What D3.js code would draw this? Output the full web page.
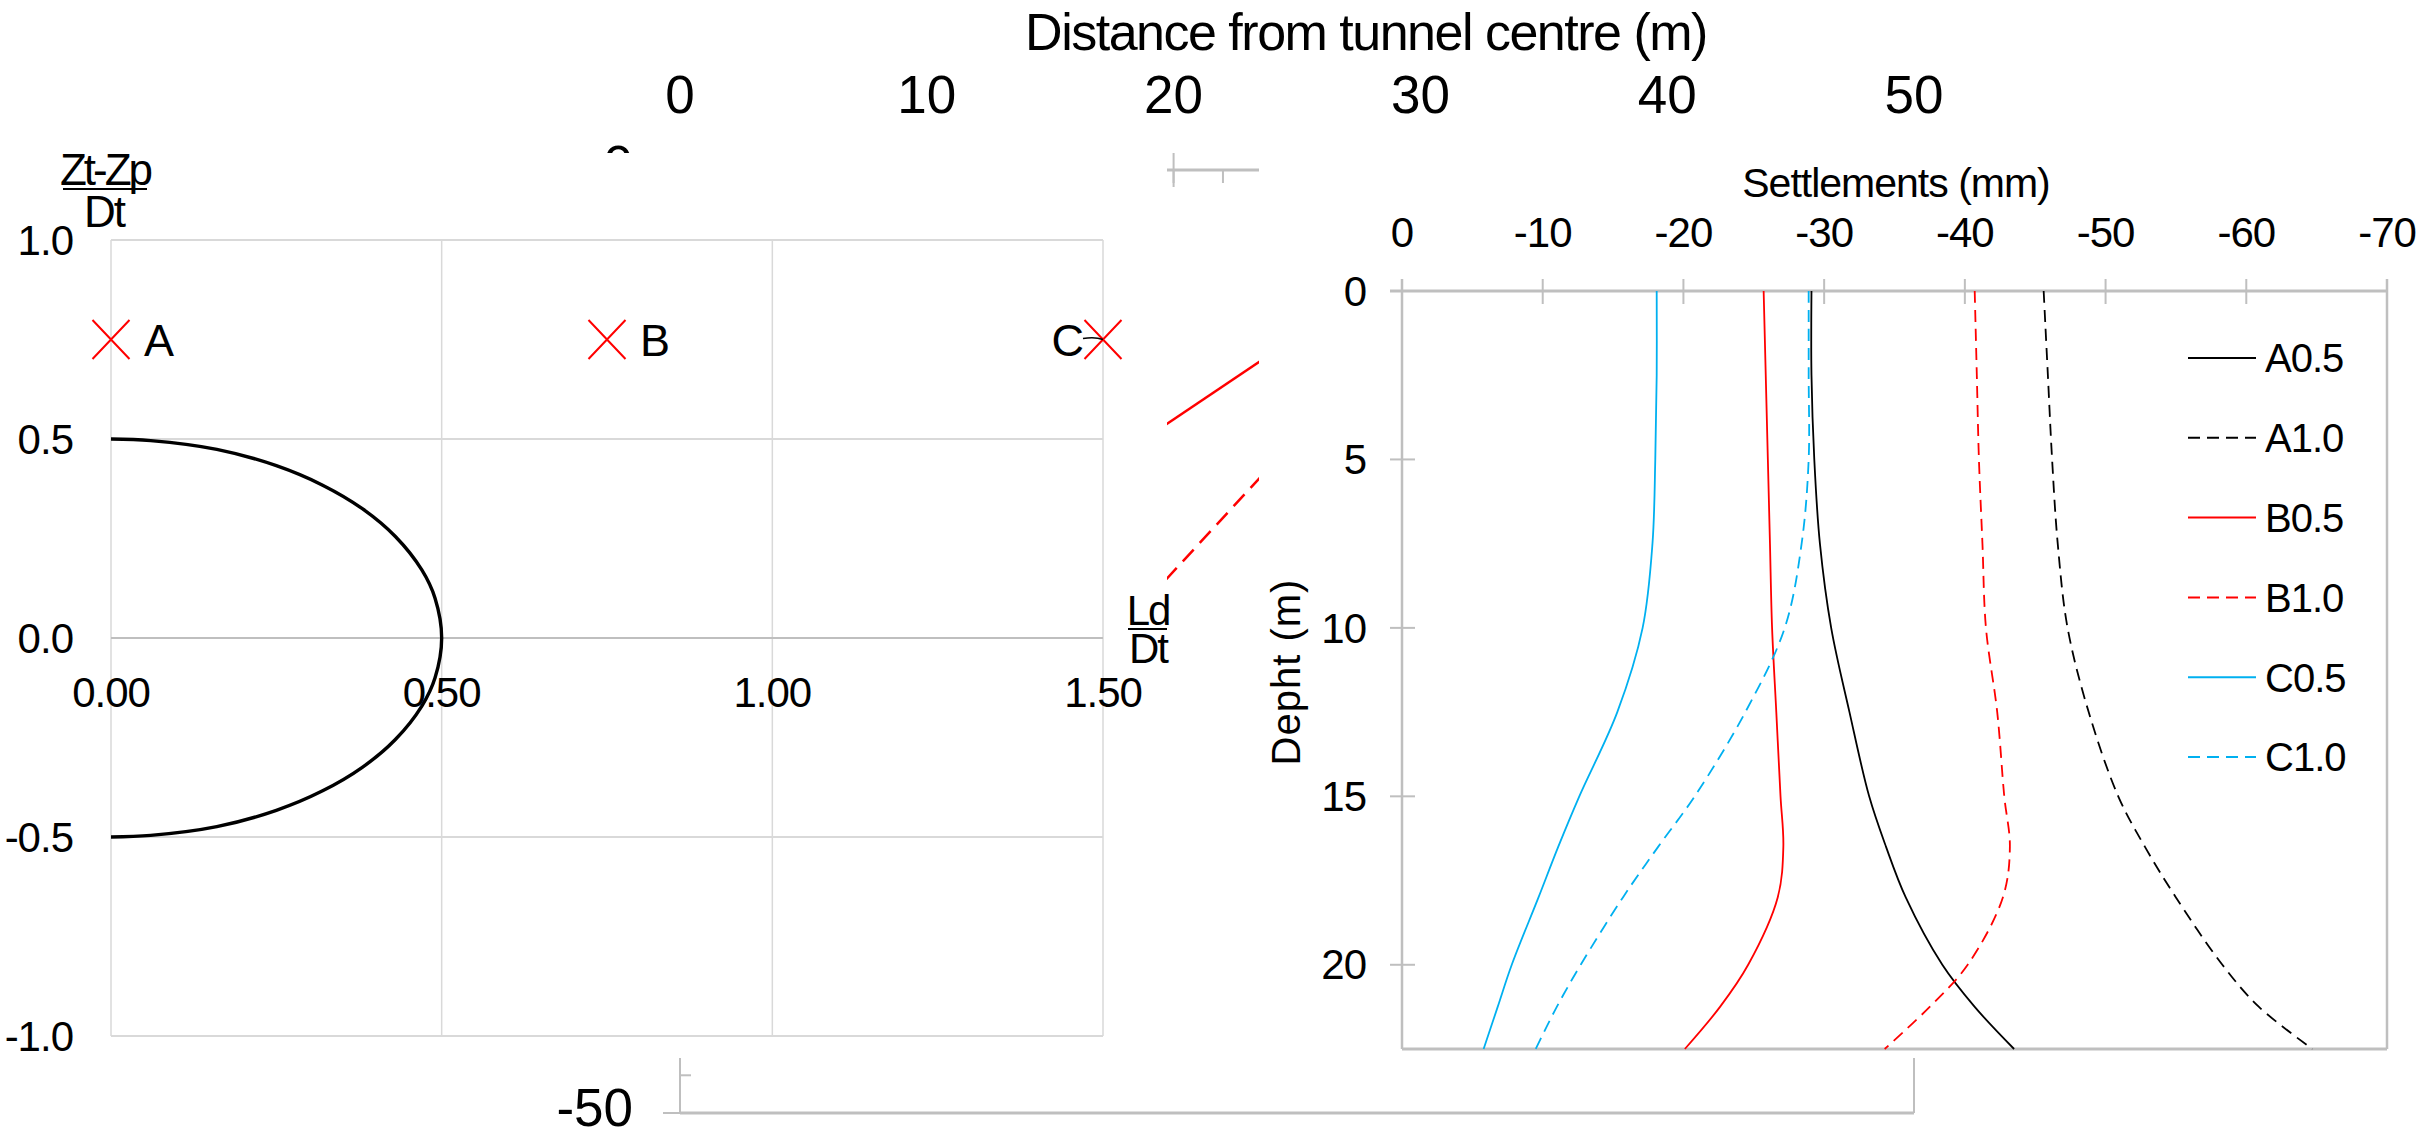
<!DOCTYPE html>
<html>
<head>
<meta charset="utf-8">
<script src="https://cdn.jsdelivr.net/npm/d3@7"></script>
<style>
body{margin:0;background:#fff}
svg{display:block}
text{font-family:"Liberation Sans",Arial,sans-serif;fill:#000}
</style>
</head>
<body>
<div id="chart"></div>
<script>
// background chart, mostly covered by the two charts on top of it
var distTicks = [0, 10, 20, 30, 40, 50];
var distYTicks = [0, -10, -20, -30, -40, -50];
var gapDist = [19, 24];
var gapB05 = [-14.1, -9.7];
var gapB10 = [-22.7, -15.6];

// left chart : tunnel section and points A B C
var ldTicks = [0, 0.5, 1.0, 1.5];
var ldLabels = ["0.00", "0.50", "1.00", "1.50"];
var ztTicks = [1.0, 0.5, 0.0, -0.5, -1.0];
var ztLabels = ["1.0", "0.5", "0.0", "-0.5", "-1.0"];
var tunnelLd = [0, 0.06, 0.16, 0.25, 0.32, 0.38, 0.43, 0.47, 0.49, 0.5, 0.49, 0.47, 0.43, 0.38, 0.32, 0.25, 0.16, 0.06, 0];
var tunnelZt = [0.5, 0.496, 0.474, 0.433, 0.384, 0.325, 0.255, 0.171, 0.1, 0, -0.1, -0.171, -0.255, -0.325, -0.384, -0.433, -0.474, -0.496, -0.5];
var pointNames = ["A", "B", "C"];
var pointLd = [0, 0.75, 1.5];
var pointZt = [0.75, 0.75, 0.75];

// right chart : settlements with depth
var settleTicks = [0, -10, -20, -30, -40, -50, -60, -70];
var depthTicks = [0, 5, 10, 15, 20];
var depth = [0, 2.5, 5, 7.5, 10, 12.5, 15, 16.5, 18, 20, 21.25, 22.5];
var A05 = [-29.1, -29.1, -29.3, -29.7, -30.5, -31.8, -33.2, -34.4, -35.8, -38.4, -40.7, -43.5];
var A10 = [-45.6, -45.9, -46.2, -46.6, -47.3, -48.8, -50.9, -52.8, -55.0, -58.3, -60.9, -64.7];
var B05 = [-25.7, -25.85, -26.0, -26.15, -26.3, -26.6, -26.9, -27.1, -26.7, -24.6, -22.6, -20.1];
var B10 = [-40.7, -40.85, -41.0, -41.25, -41.5, -42.3, -42.8, -43.2, -42.7, -40.2, -37.5, -34.3];
var C05 = [-18.1, -18.1, -18.0, -17.8, -17.1, -15.3, -12.6, -11.1, -9.7, -7.8, -6.8, -5.8];
var C10 = [-28.9, -28.9, -28.9, -28.4, -27.2, -24.4, -20.8, -18.2, -15.7, -12.7, -11.0, -9.5];
var seriesNames = ["A0.5", "A1.0", "B0.5", "B1.0", "C0.5", "C1.0"];
var seriesValues = [A05, A10, B05, B10, C05, C10];
var seriesColors = ["#000000", "#000000", "#ff0000", "#ff0000", "#00b0f0", "#00b0f0"];
var seriesDashed = [false, true, false, true, false, true];

var W = 2433, H = 1138;
var axisGray = "#bfbfbf", gridGray = "#d9d9d9";

var svg = d3.select("#chart").append("svg")
    .attr("width", W)
    .attr("height", H);
svg.append("rect").attr("width", W).attr("height", H).attr("fill", "#fff");

// ---------- background chart
var xD = d3.scaleLinear().domain([0, 50]).range([680, 1914]);
var yD = d3.scaleLinear().domain([0, -50]).range([170, 1113]);
var hid = svg.append("g");

hid.append("text")
    .attr("x", 1366).attr("y", 50)
    .attr("text-anchor", "middle")
    .style("font-size", "52px").style("letter-spacing", "-1.5px")
    .text("Distance from tunnel centre (m)");
hid.selectAll(".dtick").data(distTicks).enter().append("text")
    .attr("x", function(d){ return xD(d); })
    .attr("y", 113)
    .attr("text-anchor", "middle")
    .style("font-size", "53px")
    .text(function(d){ return d; });

hid.append("line")
    .attr("x1", xD(0)).attr("x2", xD(50))
    .attr("y1", yD(0)).attr("y2", yD(0))
    .attr("stroke", axisGray).attr("stroke-width", 3);
hid.selectAll(".dmaj").data(distTicks).enter().append("line")
    .attr("x1", function(d){ return xD(d); }).attr("x2", function(d){ return xD(d); })
    .attr("y1", yD(0) - 17).attr("y2", yD(0) + 17)
    .attr("stroke", axisGray).attr("stroke-width", 2);
hid.selectAll(".dmin").data(xD.ticks(25)).enter().append("line")
    .attr("x1", function(d){ return xD(d); }).attr("x2", function(d){ return xD(d); })
    .attr("y1", yD(0)).attr("y2", yD(0) + 13)
    .attr("stroke", axisGray).attr("stroke-width", 2);

hid.append("line")
    .attr("x1", xD(0)).attr("x2", xD(0))
    .attr("y1", yD(0)).attr("y2", yD(-50))
    .attr("stroke", axisGray).attr("stroke-width", 2);
hid.append("line")
    .attr("x1", xD(50)).attr("x2", xD(50))
    .attr("y1", yD(0)).attr("y2", yD(-50))
    .attr("stroke", axisGray).attr("stroke-width", 2);
hid.append("line")
    .attr("x1", xD(0)).attr("x2", xD(50))
    .attr("y1", yD(-50)).attr("y2", yD(-50))
    .attr("stroke", axisGray).attr("stroke-width", 3);
hid.selectAll(".ymaj").data(distYTicks).enter().append("line")
    .attr("x1", xD(0) - 17).attr("x2", xD(0) + 17)
    .attr("y1", function(d){ return yD(d); }).attr("y2", function(d){ return yD(d); })
    .attr("stroke", axisGray).attr("stroke-width", 2);
hid.selectAll(".ymin").data(yD.ticks(25)).enter().append("line")
    .attr("x1", xD(0)).attr("x2", xD(0) + 11)
    .attr("y1", function(d){ return yD(d); }).attr("y2", function(d){ return yD(d); })
    .attr("stroke", axisGray).attr("stroke-width", 2);
hid.selectAll(".ylab").data(distYTicks).enter().append("text")
    .attr("x", 633)
    .attr("y", function(d){ return yD(d); })
    .attr("dy", "0.25em")
    .attr("text-anchor", "end")
    .style("font-size", "53px")
    .text(function(d){ return d; });

var gapLine = d3.line()
    .x(function(d, i){ return xD(gapDist[i]); })
    .y(function(d){ return yD(d); });
hid.append("path").datum(gapB05)
    .attr("d", gapLine)
    .attr("fill", "none").attr("stroke", "#ff0000").attr("stroke-width", 2.5);
hid.append("path").datum(gapB10)
    .attr("d", gapLine)
    .attr("fill", "none").attr("stroke", "#ff0000").attr("stroke-width", 2.5)
    .attr("stroke-dasharray", "16,9");

// chart areas laid over it
svg.append("rect").attr("x", 0).attr("y", 153).attr("width", 1167).attr("height", 905).attr("fill", "#fff");
svg.append("rect").attr("x", 1259).attr("y", 150).attr("width", W - 1259).attr("height", 908).attr("fill", "#fff");

// ---------- left chart
var xL = d3.scaleLinear().domain([0, 1.5]).range([111, 1103]);
var yL = d3.scaleLinear().domain([-1, 1]).range([1036, 240]);
var left = svg.append("g");

left.selectAll(".vgrid").data(ldTicks).enter().append("line")
    .attr("x1", function(d){ return xL(d); }).attr("x2", function(d){ return xL(d); })
    .attr("y1", yL(1)).attr("y2", yL(-1))
    .attr("stroke", gridGray).attr("stroke-width", 1.5);
left.selectAll(".hgrid").data(ztTicks).enter().append("line")
    .attr("x1", xL(0)).attr("x2", xL(1.5))
    .attr("y1", function(d){ return yL(d); }).attr("y2", function(d){ return yL(d); })
    .attr("stroke", function(d){ return d === 0 ? axisGray : gridGray; })
    .attr("stroke-width", 2);

left.selectAll(".ylab").data(ztTicks).enter().append("text")
    .attr("x", 73)
    .attr("y", function(d){ return yL(d); })
    .attr("dy", "0.35em")
    .attr("text-anchor", "end")
    .style("font-size", "42px").style("letter-spacing", "-1px")
    .text(function(d, i){ return ztLabels[i]; });
left.selectAll(".xlab").data(ldTicks).enter().append("text")
    .attr("x", function(d){ return xL(d); })
    .attr("y", 707)
    .attr("text-anchor", "middle")
    .style("font-size", "42px").style("letter-spacing", "-1px")
    .text(function(d, i){ return ldLabels[i]; });

var tunnelLine = d3.line()
    .x(function(d, i){ return xL(tunnelLd[i]); })
    .y(function(d){ return yL(d); })
    .curve(d3.curveCatmullRom);
left.append("path").datum(tunnelZt)
    .attr("d", tunnelLine)
    .attr("fill", "none").attr("stroke", "#000").attr("stroke-width", 3.4);

var pts = left.selectAll(".pt").data(pointNames).enter().append("g");
pts.append("path")
    .attr("d", function(d, i){
        var cx = xL(pointLd[i]), cy = yL(pointZt[i]);
        return "M" + (cx - 18.5) + "," + (cy - 19.5) + "L" + (cx + 18.5) + "," + (cy + 19.5) +
               "M" + (cx - 18.5) + "," + (cy + 19.5) + "L" + (cx + 18.5) + "," + (cy - 19.5);
    })
    .attr("stroke", "#ff0000").attr("stroke-width", 2).attr("fill", "none");
pts.append("text")
    .attr("x", function(d, i){ return i === 2 ? xL(pointLd[i]) - 19 : xL(pointLd[i]) + 33; })
    .attr("y", function(d, i){ return yL(pointZt[i]); })
    .attr("dy", "0.36em")
    .attr("text-anchor", function(d, i){ return i === 2 ? "end" : "start"; })
    .style("font-size", "45px")
    .text(function(d){ return d; });
// leader of label C
left.append("path")
    .attr("d", "M" + (xL(1.5) - 20) + "," + (yL(0.75) - 1) + "Q" + (xL(1.5) - 8) + "," + (yL(0.75) - 3) + " " + xL(1.5) + "," + yL(0.75))
    .attr("fill", "none").attr("stroke", "#000").attr("stroke-width", 1.5);

// axis titles as fractions
left.append("text").attr("x", 105).attr("y", 185).attr("text-anchor", "middle")
    .style("font-size", "44px").style("letter-spacing", "-3px").text("Zt-Zp");
left.append("line").attr("x1", 63).attr("x2", 147).attr("y1", 189).attr("y2", 189)
    .attr("stroke", "#000").attr("stroke-width", 2);
left.append("text").attr("x", 104).attr("y", 227).attr("text-anchor", "middle")
    .style("font-size", "44px").style("letter-spacing", "-2px").text("Dt");

left.append("text").attr("x", 1148).attr("y", 625).attr("text-anchor", "middle")
    .style("font-size", "42px").style("letter-spacing", "-2px").text("Ld");
left.append("line").attr("x1", 1128).attr("x2", 1167).attr("y1", 629).attr("y2", 629)
    .attr("stroke", "#000").attr("stroke-width", 2);
left.append("text").attr("x", 1148).attr("y", 663).attr("text-anchor", "middle")
    .style("font-size", "42px").style("letter-spacing", "-2px").text("Dt");

// ---------- right chart
var xR = d3.scaleLinear().domain([0, -70]).range([1402, 2387]);
var yR = d3.scaleLinear().domain([0, 22.5]).range([291, 1049]);
var right = svg.append("g");

right.append("line").attr("x1", 1390).attr("x2", xR(-70)).attr("y1", yR(0)).attr("y2", yR(0))
    .attr("stroke", axisGray).attr("stroke-width", 3);
right.append("line").attr("x1", xR(0)).attr("x2", xR(0)).attr("y1", 279).attr("y2", yR(22.5))
    .attr("stroke", axisGray).attr("stroke-width", 2.5);
right.append("line").attr("x1", xR(-70)).attr("x2", xR(-70)).attr("y1", 279).attr("y2", yR(22.5))
    .attr("stroke", axisGray).attr("stroke-width", 2.5);
right.append("line").attr("x1", xR(0)).attr("x2", xR(-70)).attr("y1", yR(22.5)).attr("y2", yR(22.5))
    .attr("stroke", axisGray).attr("stroke-width", 3);
right.selectAll(".xt").data(settleTicks).enter().append("line")
    .attr("x1", function(d){ return xR(d); }).attr("x2", function(d){ return xR(d); })
    .attr("y1", 279).attr("y2", 304)
    .attr("stroke", axisGray).attr("stroke-width", 2);
right.selectAll(".yt").data(depthTicks).enter().append("line")
    .attr("x1", 1390).attr("x2", 1415)
    .attr("y1", function(d){ return yR(d); }).attr("y2", function(d){ return yR(d); })
    .attr("stroke", axisGray).attr("stroke-width", 2);

right.selectAll(".xl").data(settleTicks).enter().append("text")
    .attr("x", function(d){ return xR(d); })
    .attr("y", 247)
    .attr("text-anchor", "middle")
    .style("font-size", "42px").style("letter-spacing", "-1px")
    .text(function(d){ return d; });
right.selectAll(".yl").data(depthTicks).enter().append("text")
    .attr("x", 1366)
    .attr("y", function(d){ return yR(d); })
    .attr("dy", "0.35em")
    .attr("text-anchor", "end")
    .style("font-size", "42px").style("letter-spacing", "-1px")
    .text(function(d){ return d; });

right.append("text").attr("x", 1896).attr("y", 197).attr("text-anchor", "middle")
    .style("font-size", "41px").style("letter-spacing", "-1px").text("Settlements (mm)");
right.append("text")
    .attr("transform", "translate(1300,672) rotate(-90)")
    .attr("text-anchor", "middle")
    .style("font-size", "40px").style("letter-spacing", "1px")
    .text("Depht (m)");

var depthLine = d3.line()
    .x(function(d){ return xR(d); })
    .y(function(d, i){ return yR(depth[i]); })
    .curve(d3.curveCatmullRom);
right.selectAll(".series").data(seriesValues).enter().append("path")
    .attr("d", depthLine)
    .attr("fill", "none")
    .attr("stroke", function(d, i){ return seriesColors[i]; })
    .attr("stroke-width", 1.8)
    .attr("stroke-dasharray", function(d, i){ return seriesDashed[i] ? "12,7" : null; });

var leg = right.selectAll(".leg").data(seriesNames).enter().append("g")
    .attr("transform", function(d, i){ return "translate(0," + (358 + i * 79.8) + ")"; });
leg.append("line")
    .attr("x1", 2188).attr("x2", 2256).attr("y1", 0).attr("y2", 0)
    .attr("stroke", function(d, i){ return seriesColors[i]; })
    .attr("stroke-width", 2)
    .attr("stroke-dasharray", function(d, i){ return seriesDashed[i] ? "12,7" : null; });
leg.append("text")
    .attr("x", 2265).attr("y", 0).attr("dy", "0.36em")
    .style("font-size", "40px").style("letter-spacing", "-1px")
    .text(function(d){ return d; });
</script>
</body>
</html>
